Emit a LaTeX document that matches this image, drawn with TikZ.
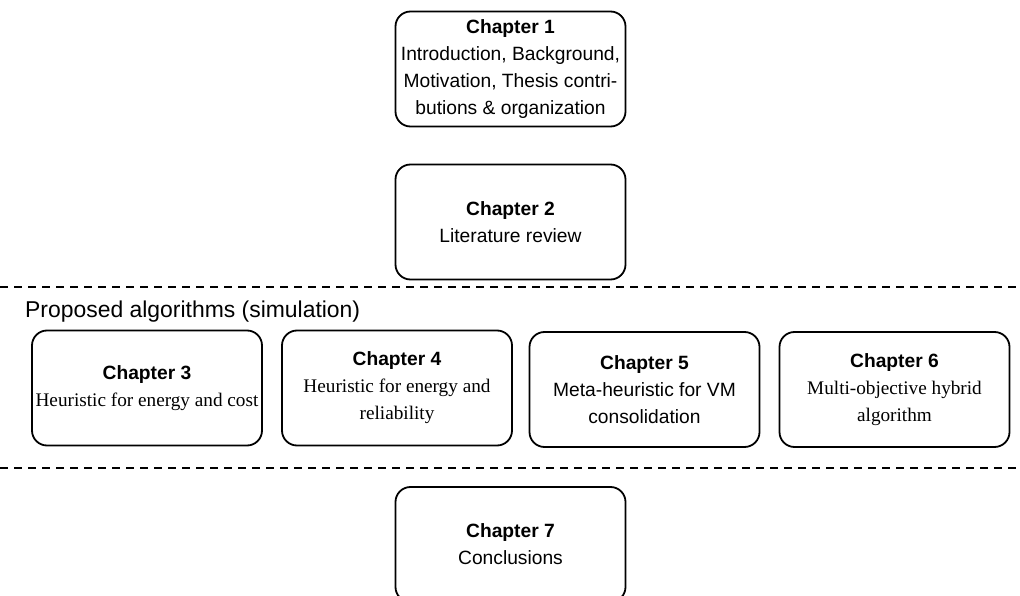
\documentclass[tikz,border=0pt]{standalone}
\usepackage{fontspec}
\setmainfont{Liberation Sans}
\newfontfamily\serifchap{Liberation Serif}
\tikzset{
  chapbox/.style={draw,line width=1.8bp,rounded corners=15bp,minimum width=230bp,
    minimum height=115bp,align=center,inner sep=2bp,font=\fontsize{19.3}{27}\selectfont},
  partline/.style={line width=1.3bp,dash pattern=on 8bp off 6bp}
}
\begin{document}
\begin{tikzpicture}[x=1bp,y=-1bp]
			\useasboundingbox (0,0) rectangle (1020,596);
			\node[chapbox] (ch1) at (510.5,69) {\textbf{Chapter 1}\\Introduction, Background,\\Motivation, Thesis contri-\\butions \& organization};
			\node[chapbox] (ch2) at (510.5,222) {\textbf{Chapter 2}\\Literature review};
			\coordinate (sepAl) at (0,287);
			\coordinate (sepAr) at (1020,287);
			\draw[partline] (sepAl)--(sepAr);
			\node[anchor=west,inner sep=0pt,font=\fontsize{23}{27}\selectfont] (part) at (25,312) {Proposed algorithms (simulation)};
			\node[chapbox] (ch3) at (147,388) {\textbf{Chapter 3}\\{\serifchap Heuristic for energy and cost}};
			\node[chapbox] (ch4) at (397,388) {\textbf{Chapter 4}\\{\serifchap Heuristic for energy and}\\{\serifchap reliability}};
			\node[chapbox] (ch5) at (644.5,389.5) {\textbf{Chapter 5}\\Meta-heuristic for VM\\consolidation};
			\node[chapbox] (ch6) at (894.5,389.5) {\textbf{Chapter 6}\\{\serifchap Multi-objective hybrid}\\{\serifchap algorithm}};
			\coordinate (sepBl) at (0,468);
			\coordinate (sepBr) at (1020,468);
			\draw[partline] (sepBl)--(sepBr);
			\node[chapbox] (ch7) at (510.5,544.5) {\textbf{Chapter 7}\\Conclusions};
		\end{tikzpicture}
\end{document}
